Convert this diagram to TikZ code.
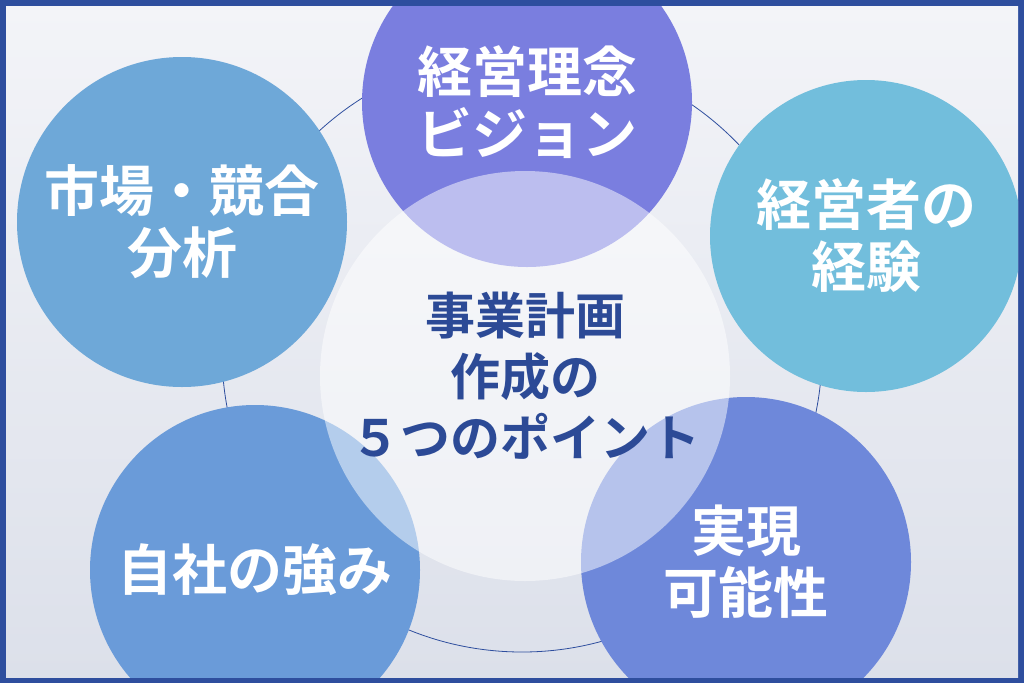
\documentclass[tikz,border=0pt]{standalone}
\usepackage{fontspec}
\setmainfont{Noto Sans CJK JP}[BoldFont={Noto Sans CJK JP Bold}]
\definecolor{frameblue}{HTML}{2E4E9E}
\definecolor{bgtop}{HTML}{F3F4F8}
\definecolor{bgbot}{HTML}{DCE0EA}
\definecolor{ptop}{HTML}{7A7EDF}
\definecolor{pleft}{HTML}{6EA8D8}
\definecolor{pright}{HTML}{72BEDC}
\definecolor{pbl}{HTML}{6A9BD9}
\definecolor{pbr}{HTML}{6E88DA}
\definecolor{centertext}{HTML}{2C4A96}
\usetikzlibrary{positioning}
\begin{document}
\begin{tikzpicture}[x=1pt, y=-1pt,
    point/.style={circle, inner sep=0pt, minimum size=330pt, text=white,
                  font=\fontsize{55}{62}\selectfont\bfseries, align=center}]
  \useasboundingbox (0,0) rectangle (1024,683);
  \fill[frameblue] (0,0) rectangle (1024,683);
  \shade[top color=bgtop, bottom color=bgbot] (6,6) rectangle (1018,677);
  \begin{scope}
    \clip (6,6) rectangle (1018,677);
    % ring behind the points
    \draw[frameblue, line width=0.8pt] (522,352) circle (300);
    \node[point, fill=ptop] (vision) at (527,102) {経営理念\\ビジョン};
    \node[point, fill=pleft] (market) at (182,222) {市場・競合\\分析};
    \node[point, fill=pright, minimum size=312pt] (exp) at (866,236) {経営者の\\経験};
    \node[point, fill=pbl] (strong) at (255,570) {自社の強み};
    \node[point, fill=pbr] (real) at (746,562) {実現\\可能性};
    \node[circle, fill=white, fill opacity=0.5, text opacity=1, minimum size=410pt,
          text=centertext, font=\fontsize{50}{61}\selectfont\bfseries, align=center]
          (plan) at (525,376) {事業計画\\作成の\\５つのポイント};
  \end{scope}
\end{tikzpicture}
\end{document}
